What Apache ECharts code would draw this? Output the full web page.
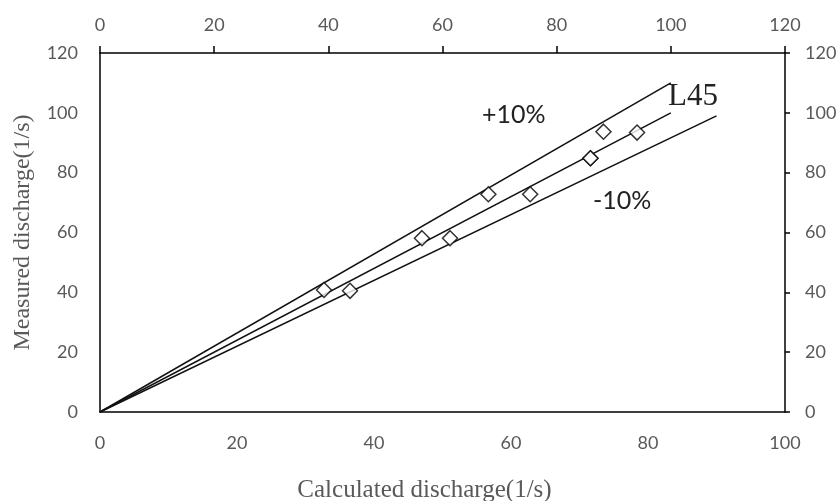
<!DOCTYPE html>
<html>
<head>
<meta charset="utf-8">
<script src="https://cdn.jsdelivr.net/npm/echarts@6/dist/echarts.min.js"></script>
<style>
html,body{margin:0;padding:0;background:#fff;}
#main{width:839px;height:501px;}
</style>
</head>
<body>
<div id="main"></div>
<script>
// Measured vs calculated points (bottom/left axes)
const calculated = [32.7, 36.5, 47.0, 51.1, 56.7, 62.8, 71.6, 71.6, 73.5, 78.4];
const measured   = [40.8, 40.5, 58.1, 58.1, 72.8, 72.8, 84.8, 84.8, 93.7, 93.4];
// Reference lines (top/right axes, 0-120)
const plus10Line  = [[0, 0], [100, 110]];
const l45Line     = [[0, 0], [100, 100]];
const minus10Line = [[0, 0], [108, 99]];
const xBottomTicks = [0, 20, 40, 60, 80, 100];
const xTopTicks = [0, 20, 40, 60, 80, 100, 120];
const yTicks = [0, 20, 40, 60, 80, 100, 120];

const chart = echarts.init(document.getElementById('main'));
const sans = 'Lato, "Open Sans", sans-serif';
const serif = '"Liberation Serif", "DejaVu Serif", serif';
const axisLineStyle = {color: '#000', width: 1.5};
const labelStyle = {color: '#595959', fontFamily: sans, fontSize: 18};

chart.setOption({
  backgroundColor: '#fff',
  animation: false,
  grid: {left: 100, right: 54, top: 53, bottom: 89, containLabel: false, outerBoundsMode: 'none'},
  xAxis: [
    {
      type: 'value', position: 'bottom', min: 0, max: 100, interval: 20,
      name: 'Calculated discharge(1/s)', nameLocation: 'middle', nameGap: 66,
      nameTextStyle: {color: '#595959', fontFamily: serif, fontSize: 25, padding: [0, 36, 0, 0]},
      axisLine: {show: true, onZero: false, lineStyle: axisLineStyle},
      axisTick: {show: false},
      axisLabel: Object.assign({margin: 22}, labelStyle),
      splitLine: {show: false}
    },
    {
      type: 'value', position: 'top', min: 0, max: 120, interval: 20,
      axisLine: {show: true, onZero: false, lineStyle: axisLineStyle},
      axisTick: {show: true, length: 7, lineStyle: {color: '#000', width: 1.5}},
      axisLabel: Object.assign({margin: 19}, labelStyle),
      splitLine: {show: false}
    }
  ],
  yAxis: [
    {
      type: 'value', position: 'left', min: 0, max: 120, interval: 20,
      name: 'Measured discharge(1/s)', nameLocation: 'middle', nameGap: 65,
      nameTextStyle: {color: '#595959', fontFamily: serif, fontSize: 24},
      axisLine: {show: true, onZero: false, lineStyle: axisLineStyle},
      axisTick: {show: false},
      axisLabel: Object.assign({margin: 22}, labelStyle),
      splitLine: {show: false}
    },
    {
      type: 'value', position: 'right', min: 0, max: 120, interval: 20,
      axisLine: {show: true, onZero: false, lineStyle: axisLineStyle},
      axisTick: {show: true, length: 5, lineStyle: {color: '#000', width: 1.5}},
      axisLabel: Object.assign({margin: 20}, labelStyle),
      splitLine: {show: false}
    }
  ],
  series: [
    {type: 'line', xAxisIndex: 1, yAxisIndex: 1, data: plus10Line, symbol: 'none',
     lineStyle: {color: '#111', width: 1.5}},
    {type: 'line', xAxisIndex: 1, yAxisIndex: 1, data: l45Line, symbol: 'none',
     lineStyle: {color: '#111', width: 1.5}},
    {type: 'line', xAxisIndex: 1, yAxisIndex: 1, data: minus10Line, symbol: 'none',
     lineStyle: {color: '#111', width: 1.5}},
    {type: 'scatter', xAxisIndex: 0, yAxisIndex: 0,
     data: calculated.map((c, i) => [c, measured[i]]),
     symbol: 'diamond', symbolSize: 15,
     itemStyle: {color: '#fff', borderColor: '#000', borderWidth: 1.5}, z: 5}
  ],
  graphic: [
    {type: 'text', left: 482, top: 102, style: {text: '+10%', font: '25px ' + sans, fill: '#222'}},
    {type: 'text', left: 668, top: 81, style: {text: 'L45', font: '31px ' + serif, fill: '#222'}},
    {type: 'text', left: 593, top: 188, style: {text: '-10%', font: '25px ' + sans, fill: '#222'}}
  ]
});
</script>
</body>
</html>
